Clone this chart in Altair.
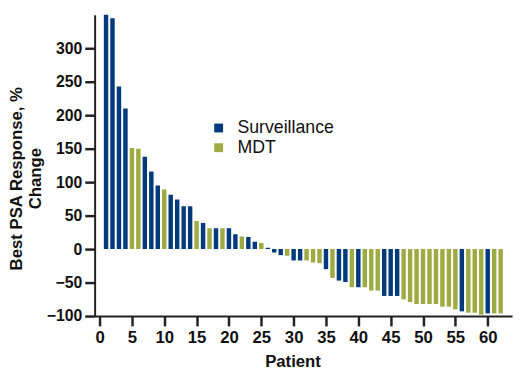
import altair as alt
import pandas as pd

patients = list(range(1, 63))
responses = [355, 345, 243, 210, 151, 150, 138, 116, 95, 89,
             81, 74, 64, 64, 42, 39, 31, 31, 31, 31,
             22, 19, 18, 11, 9, 2,
             -5, -9, -10, -17, -17, -17, -20, -21, -30, -43,
             -47, -49, -57, -57, -57, -62, -62, -70, -70, -70,
             -75, -79, -82, -82, -82, -82, -86, -86, -90, -93,
             -95, -95, -98, -96, -96, -96]
S, M = "Surveillance", "MDT"
groups = [S, S, S, S, M, M, S, S, S, M,
          S, S, S, S, M, S, M, S, M, S,
          S, M, S, S, M, S,
          S, S, M, S, S, M, M, M, S, M,
          S, S, M, S, M, M, M, S, S, S,
          M, M, M, M, M, M, M, M, M, S,
          M, M, M, S, M, M]

y_ticks = [-100, -50, 0, 50, 100, 150, 200, 250, 300]
x_ticks = list(range(0, 61, 5))

df = pd.DataFrame({"patient": patients, "response": responses, "group": groups})

FONT = "Liberation Sans"

chart = alt.Chart(df).mark_bar(size=4.5, clip=True).encode(
    x=alt.X("patient:Q",
            scale=alt.Scale(domain=[0, 63], nice=False, zero=False),
            axis=alt.Axis(values=x_ticks, title="Patient", grid=False,
                          tickSize=10, tickWidth=2.5, domainWidth=2,
                          domainColor="#222222", tickColor="#222222",
                          labelFont=FONT, labelFontSize=17, labelFontWeight="bold",
                          labelColor="#111111", labelPadding=4, labelFlush=False,
                          titleFont=FONT, titleFontSize=17, titleFontWeight="bold",
                          titleColor="#111111", titleX=201, titleY=38)),
    y=alt.Y("response:Q",
            scale=alt.Scale(domain=[-100, 350], nice=False),
            axis=alt.Axis(values=y_ticks, title=["Best PSA Response, %", "Change"],
                          grid=False, tickSize=10, tickWidth=2.5, domainWidth=2,
                          domainColor="#222222", tickColor="#222222",
                          labelFont=FONT, labelFontSize=16, labelFontWeight="bold",
                          labelColor="#111111", labelPadding=3, labelFlush=False,
                          titleFont=FONT, titleFontSize=17, titleFontWeight="bold",
                          titleColor="#111111", titleLineHeight=19,
                          titleX=-70, titleY=166)),
    color=alt.Color("group:N",
                    scale=alt.Scale(domain=[S, M], range=["#003a7d", "#9dab43"]),
                    legend=alt.Legend(title=None, orient="none", legendX=117, legendY=106,
                                      symbolType="square", symbolSize=81,
                                      symbolStrokeWidth=0, symbolOpacity=1,
                                      labelFont=FONT, labelFontSize=18,
                                      labelColor="#111111", labelOffset=10,
                                      rowPadding=2, padding=0)),
).properties(
    width=424, height=306,
    padding={"left": 88, "top": 4, "right": 3, "bottom": 58},
    autosize=alt.AutoSizeParams(type="none"),
).configure_view(stroke=None)

chart.save("out.html", embed_options={"renderer": "svg", "actions": False})
